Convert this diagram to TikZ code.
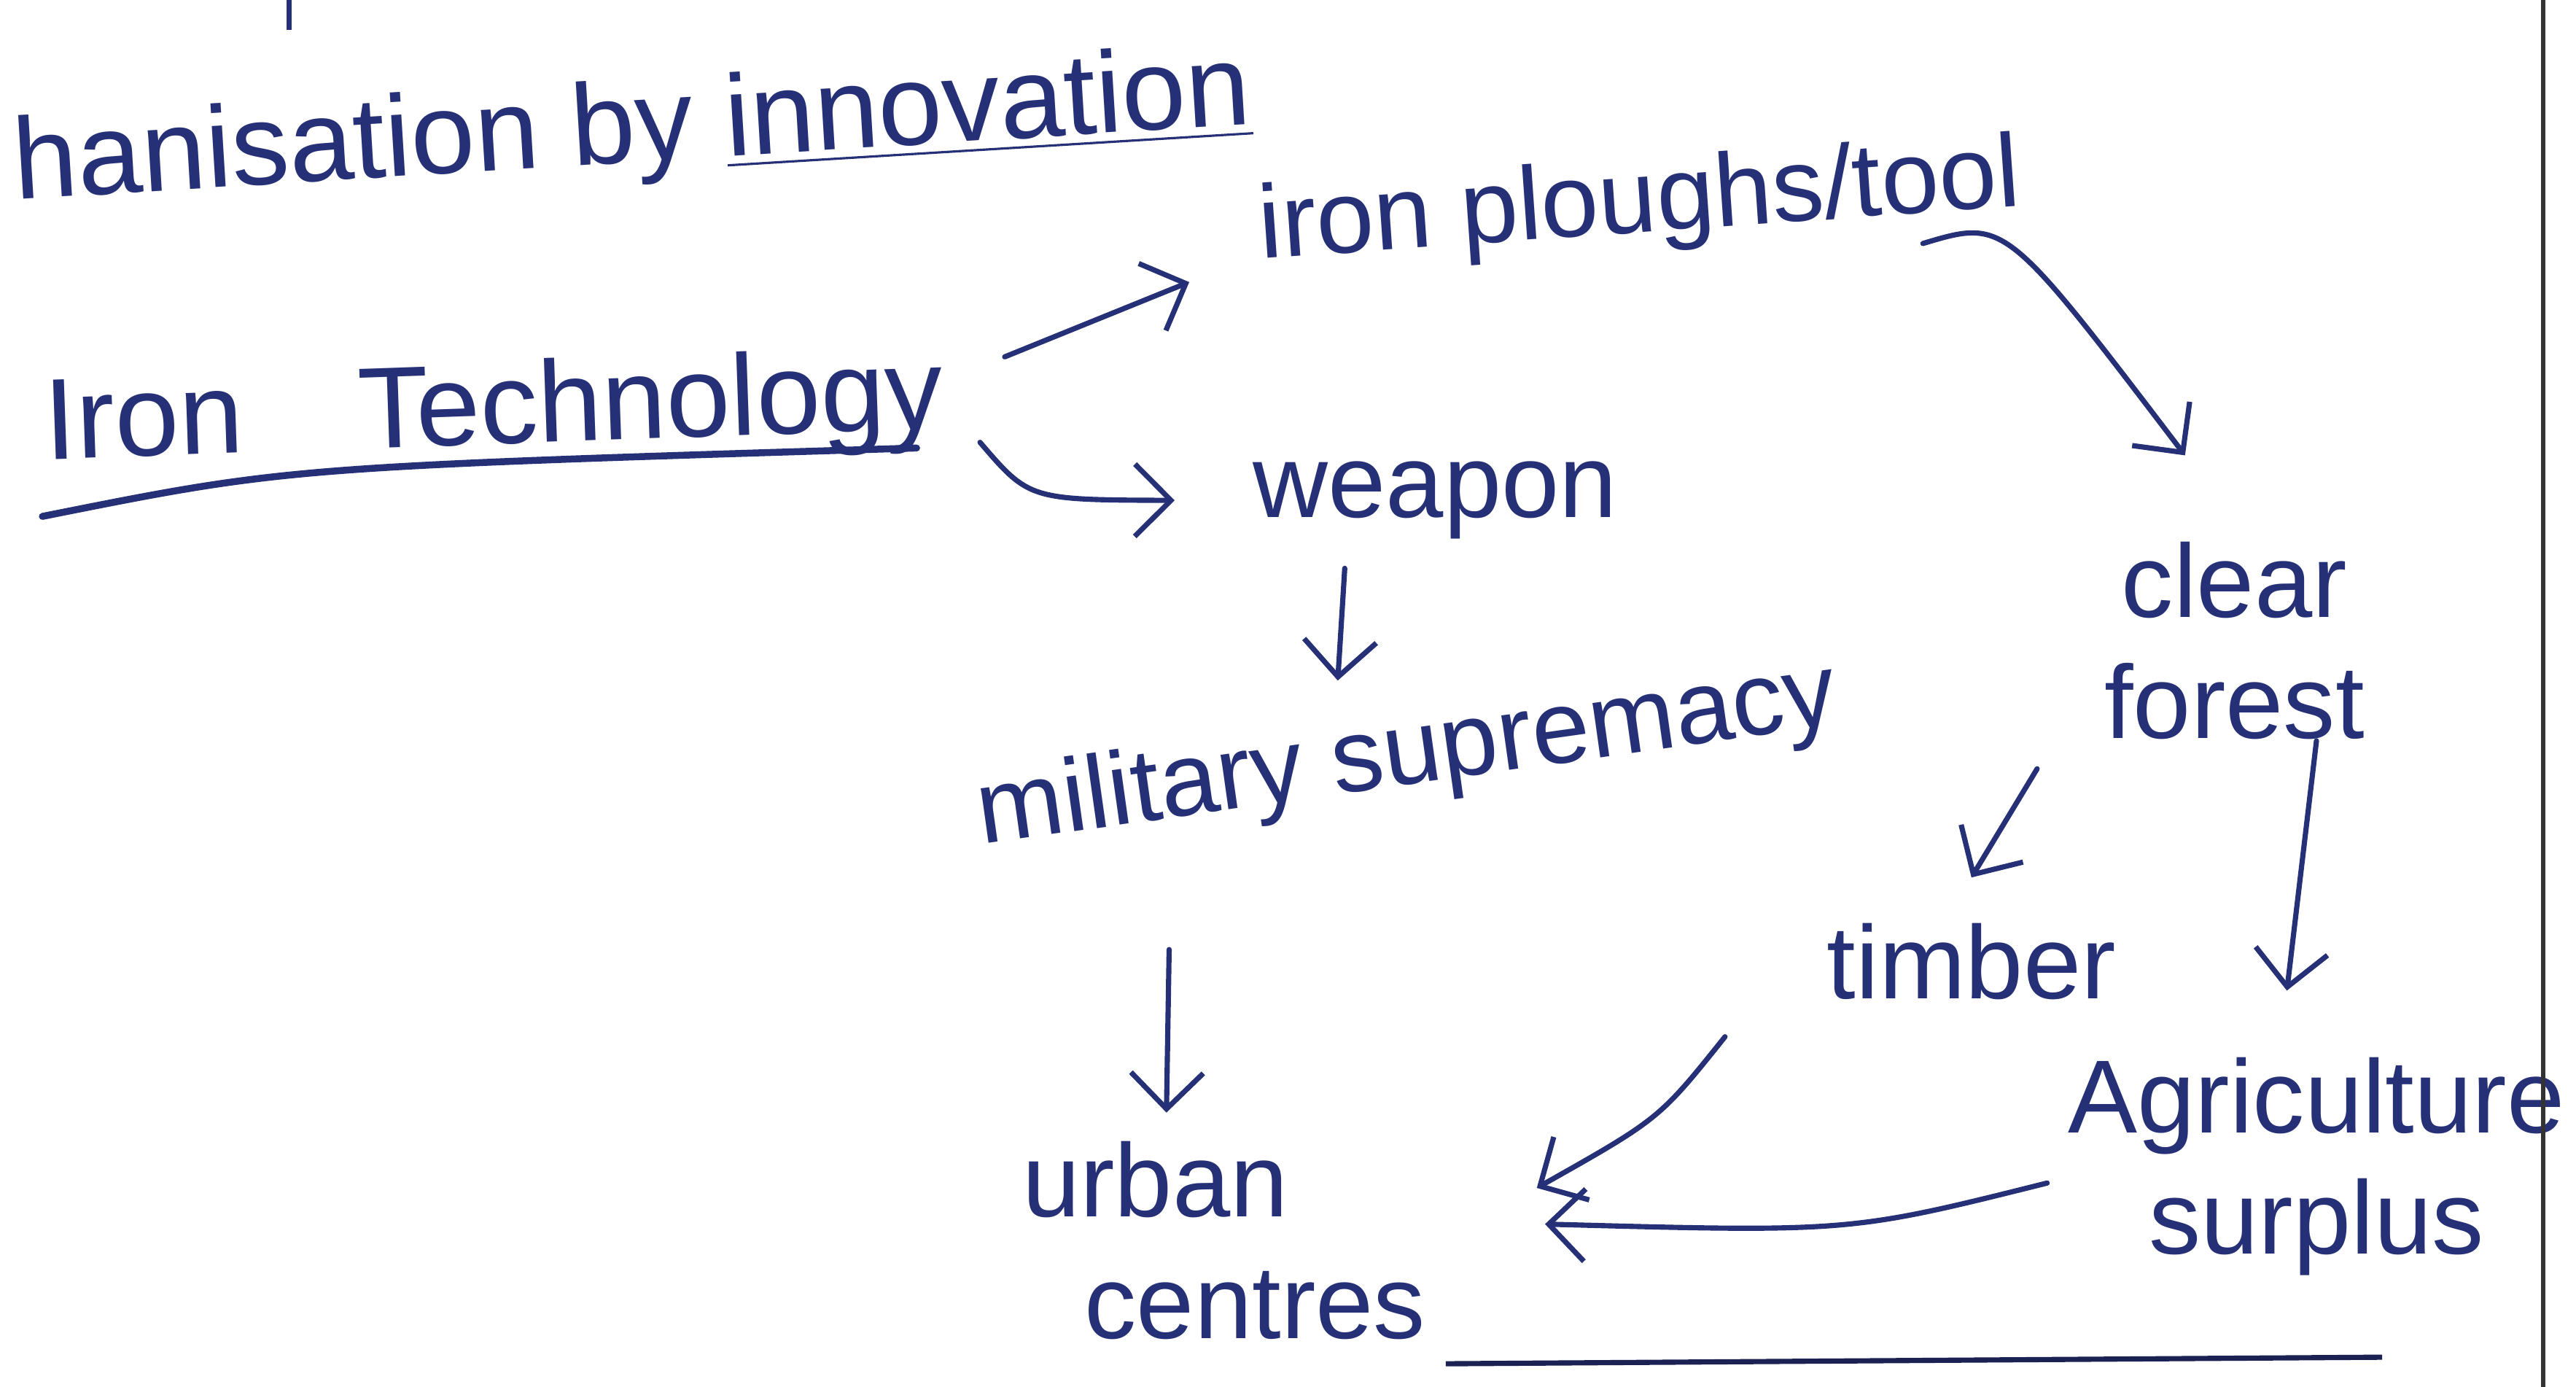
\documentclass[tikz,border=0pt]{standalone}
\usepackage{fontspec}
\setmainfont{Liberation Sans}
\usepackage{xcolor}
\usepackage{tikz}
\usetikzlibrary{calc,arrows.meta}
\definecolor{ink}{RGB}{38,48,118}
\tikzset{
word/.style={text=ink, inner sep=2pt, font=\fontsize{18}{21}\selectfont},
arr/.style={ink, line width=0.9pt, line cap=round, -{Straight Barb[length=2.2mm,width=4.4mm]}},
}

\begin{document}
\begin{tikzpicture}
\useasboundingbox (0,0) rectangle (15.68,-8.44);
\draw[ line width=0.9pt, ink] (1.76,0) -- (1.76,-0.18);
\node[word, anchor=base west, rotate=3.5, font=\fontsize{20}{24}\selectfont] (mech) at (0.02,-1.22) {hanisation by \underline{innovation}};
\node[word, anchor=base west, rotate=2, font=\fontsize{20}{24}\selectfont] (irontech) at (0.2,-2.8) {Iron\quad Technology};
\draw[ line width=1.2pt, ink, line cap=round] ([shift={(0.05,-0.12)}]irontech.south west) .. controls ++(1.5,0.3) .. ([shift={(-0.25,0.1)}]irontech.south east);
\node[word, anchor=base west, rotate=4] (plough) at (7.6,-1.58) {iron ploughs/tool};
\node[word, anchor=base west] (weapon) at (7.55,-3.15) {weapon};
\node[word, anchor=base west, rotate=8] (military) at (5.9,-5.15) {military supremacy};
\node[word, align=left] (urban) at (7.45,-7.55) {urban\\\hspace{0.6em}centres};
\node[word, align=center] (forest) at (13.6,-3.9) {clear\\forest};
\node[word] (timber) at (12.0,-5.85) {timber};
\node[word, align=center] (agri) at (14.1,-7.1) {Agriculture\\surplus};

\draw[arr] ([shift={(0.3,0.25)}]irontech.east) -- ([shift={(-0.35,-0.3)}]plough.west);
\draw[arr] ([shift={(0.15,-0.27)}]irontech.east) .. controls ++(0.3,-0.35) .. ([shift={(-0.4,0)}]weapon.west);
\draw[arr] ([shift={(-0.55,-0.1)}]weapon.south) -- ([shift={(-0.37,0.1)}]military.north);
\draw[arr] ([shift={(-1.5,-0.8)}]military.south) -- ([shift={(-0.35,0.1)}]urban.north);
\draw[arr] ([shift={(-0.67,-0.4)}]plough.east) .. controls ++(0.5,0.15) .. ([shift={(-0.3,0.45)}]forest.north);
\draw[arr] ([shift={(-1.2,-0.1)}]forest.south) -- ([shift={(0,0.2)}]timber.north);
\draw[arr] ([shift={(0.5,0.07)}]forest.south) -- ([shift={(-0.18,0.33)}]agri.north);
\draw[arr] ([shift={(-1.5,-0.15)}]timber.south) .. controls ++(-0.4,-0.5) .. ([shift={(0.6,0.32)}]urban.east);
\draw[arr] ([shift={(-0.05,-0.1)}]agri.west) .. controls ++(-1.2,-0.3) .. ([shift={(0.65,0.1)}]urban.east);

\draw[ line width=0.7pt, black!80] (15.48,0) -- (15.48,-8.44);
\draw[ line width=0.9pt, ink!70!black] (8.8,-8.3) -- (14.5,-8.26);
\end{tikzpicture}
\end{document}
